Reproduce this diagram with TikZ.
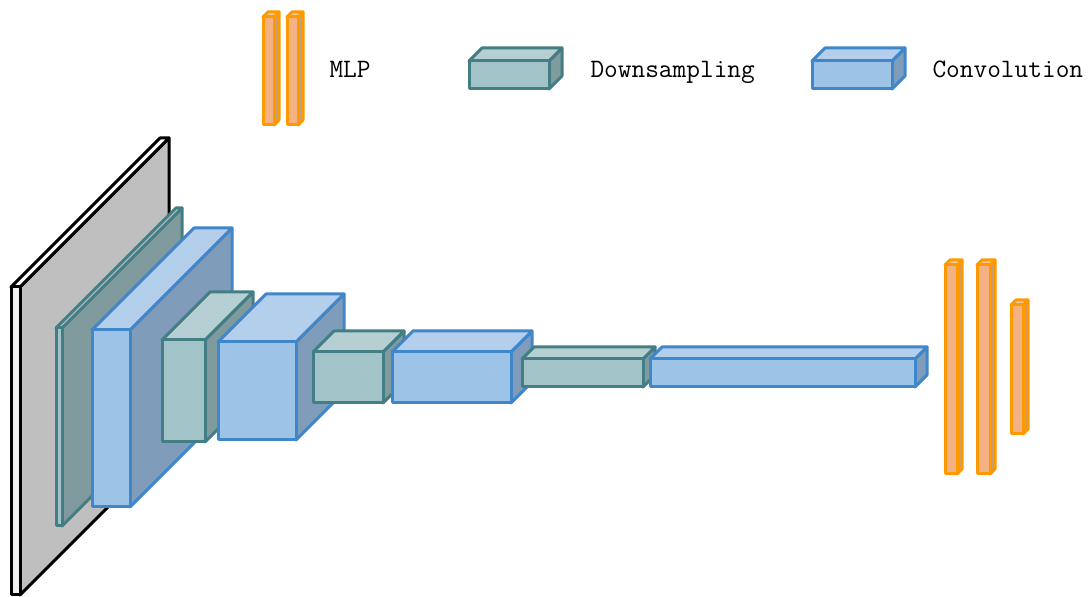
\documentclass[tikz,border=0pt]{standalone}

\definecolor{planeedge}{HTML}{000000}
\definecolor{planefront}{HTML}{F2F2F2}
\definecolor{planetop}{HTML}{FFFFFF}
\definecolor{planeside}{HTML}{BFBFBF}
\definecolor{downedge}{HTML}{447E85}
\definecolor{downfront}{HTML}{A2C3C7}
\definecolor{downtop}{HTML}{B5CFD2}
\definecolor{downside}{HTML}{809B9E}
\definecolor{convedge}{HTML}{3F86CA}
\definecolor{convfront}{HTML}{9DC3E6}
\definecolor{convtop}{HTML}{B3CFEC}
\definecolor{convside}{HTML}{7F9DBA}
\definecolor{mlpedge}{HTML}{FF9900}
\definecolor{mlpfront}{HTML}{F4B183}
\definecolor{mlptop}{HTML}{F8CBA5}
\definecolor{mlpside}{HTML}{BFA080}

% #1 kind, (#2,#3) front top left, (#4,#5) front bottom right, #6 depth
\newcommand{\cuboid}[6]{%
  \draw[draw=#1edge,fill=#1side] (#4,#3) -- (#4+#6,#3-#6) -- (#4+#6,#5-#6) -- (#4,#5) -- cycle;
  \draw[draw=#1edge,fill=#1top] (#2,#3) -- (#2+#6,#3-#6) -- (#4+#6,#3-#6) -- (#4,#3) -- cycle;
  \draw[draw=#1edge,fill=#1front] (#2,#3) rectangle (#4,#5);
}

\begin{document}
\begin{tikzpicture}
  [x=0.5pt,y=-0.5pt,line width=1.5pt,line join=round,
   legend/.style={anchor=base west,inner sep=0pt,font=\ttfamily\fontsize{13.3}{16}\selectfont}]

  \useasboundingbox (0,0) rectangle (1089,597);

  % legend
  \cuboid{mlp}{263}{17}{274}{125}{5}
  \cuboid{mlp}{287}{17}{298}{125}{5}
  \node[legend] (mlplab) at (328,78) {MLP};
  \cuboid{down}{469}{61}{549}{89}{13}
  \node[legend] (downlab) at (589,78) {Downsampling};
  \cuboid{conv}{812}{61}{892}{89}{13}
  \node[legend] (convlab) at (931,78) {Convolution};

  % input
  \cuboid{plane}{11}{287}{20}{595}{149}

  % stages
  \cuboid{down}{56}{328}{62}{526}{120}
  \cuboid{conv}{92}{330}{130}{507}{102}
  \cuboid{down}{162}{340}{205}{442}{48}
  \cuboid{conv}{218}{342}{296}{440}{48}
  \cuboid{down}{313}{352}{383}{403}{21}
  \cuboid{conv}{392}{352}{511}{403}{21}
  \cuboid{down}{522}{359}{643}{387}{12}
  \cuboid{conv}{650}{359}{915}{387}{12}

  % head
  \cuboid{mlp}{945}{265}{957}{474}{5}
  \cuboid{mlp}{977}{265}{990}{474}{5}
  \cuboid{mlp}{1011}{305}{1023}{434}{5}
\end{tikzpicture}
\end{document}
